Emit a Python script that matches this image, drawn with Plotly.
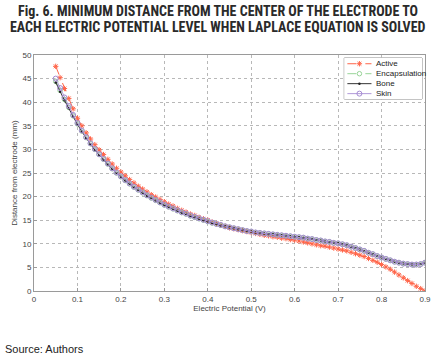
import plotly.graph_objects as go

potential = [round(0.05 + 0.01 * i, 2) for i in range(86)]

active = [47.6, 45.2, 42.9, 40.8, 38.6, 36.6, 35.0, 33.5, 32.2, 31.0,
          29.9, 28.9, 27.9, 26.9, 26.0, 25.2, 24.4, 23.6, 22.9, 22.2,
          21.6, 21.0, 20.4, 19.9, 19.4, 18.9, 18.4, 18.0, 17.5, 17.1,
          16.7, 16.3, 16.0, 15.6, 15.3, 15.0, 14.6, 14.3, 14.0, 13.7,
          13.4, 13.2, 13.0, 12.8, 12.6, 12.4, 12.2, 12.0, 11.8, 11.7,
          11.5, 11.4, 11.2, 11.1, 10.9, 10.8, 10.6, 10.4, 10.2, 10.0,
          9.8, 9.6, 9.5, 9.3, 9.1, 8.9, 8.7, 8.5, 8.2, 7.9,
          7.6, 7.3, 6.9, 6.5, 6.1, 5.6, 5.1, 4.6, 4.0, 3.4,
          2.8, 2.2, 1.6, 1.0, 0.5, 0.0]

skin = [45.0, 43.0, 41.0, 39.2, 37.3, 35.6, 34.0, 32.6, 31.3, 30.1,
        29.0, 28.0, 27.0, 26.0, 25.1, 24.3, 23.5, 22.8, 22.1, 21.5,
        20.9, 20.3, 19.8, 19.3, 18.8, 18.3, 17.9, 17.5, 17.1, 16.7,
        16.4, 16.0, 15.7, 15.4, 15.1, 14.8, 14.5, 14.2, 14.0, 13.7,
        13.5, 13.3, 13.1, 12.9, 12.7, 12.6, 12.4, 12.3, 12.2, 12.1,
        12.0, 11.9, 11.8, 11.7, 11.6, 11.5, 11.4, 11.3, 11.1, 11.0,
        10.8, 10.7, 10.5, 10.4, 10.2, 10.1, 9.9, 9.7, 9.4, 9.1,
        8.8, 8.5, 8.1, 7.8, 7.4, 7.1, 6.8, 6.5, 6.2, 6.0,
        5.8, 5.7, 5.6, 5.6, 5.7, 6.0]

encapsulation = [44.4, 42.5, 40.6, 38.9, 37.1, 35.4, 33.9, 32.5, 31.2, 30.0,
                 28.9, 27.9, 26.9, 25.9, 25.0, 24.2, 23.4, 22.7, 22.0, 21.4,
                 20.8, 20.2, 19.7, 19.2, 18.7, 18.2, 17.8, 17.4, 17.0, 16.6,
                 16.3, 15.9, 15.6, 15.3, 15.0, 14.7, 14.4, 14.2, 13.9, 13.7,
                 13.5, 13.3, 13.1, 12.9, 12.7, 12.6, 12.4, 12.3, 12.2, 12.1,
                 12.0, 11.9, 11.8, 11.7, 11.6, 11.5, 11.4, 11.3, 11.1, 11.0,
                 10.8, 10.7, 10.5, 10.4, 10.2, 10.1, 9.9, 9.7, 9.4, 9.1,
                 8.8, 8.5, 8.1, 7.8, 7.4, 7.1, 6.8, 6.5, 6.2, 6.0,
                 5.8, 5.7, 5.6, 5.6, 5.7, 6.0]

bone = [44.2, 42.2, 40.4, 38.7, 36.9, 35.3, 33.8, 32.4, 31.1, 29.9,
        28.8, 27.8, 26.8, 25.9, 25.0, 24.2, 23.4, 22.7, 22.0, 21.4,
        20.8, 20.2, 19.7, 19.2, 18.7, 18.2, 17.8, 17.4, 17.0, 16.6,
        16.3, 15.9, 15.6, 15.3, 15.0, 14.7, 14.4, 14.2, 13.9, 13.7,
        13.5, 13.3, 13.1, 12.9, 12.7, 12.6, 12.4, 12.3, 12.2, 12.1,
        12.0, 11.9, 11.8, 11.7, 11.6, 11.5, 11.4, 11.3, 11.1, 11.0,
        10.8, 10.7, 10.5, 10.4, 10.2, 10.1, 9.9, 9.7, 9.4, 9.1,
        8.8, 8.5, 8.1, 7.8, 7.4, 7.1, 6.8, 6.5, 6.2, 6.0,
        5.8, 5.7, 5.6, 5.6, 5.7, 6.0]

series_names = ["Active", "Encapsulation", "Bone", "Skin"]
x_ticks = [0, 0.1, 0.2, 0.3, 0.4, 0.5, 0.6, 0.7, 0.8, 0.9]
x_labels = ["0", "0.1", "0.2", "0.3", "0.4", "0.5", "0.6", "0.7", "0.8", "0.9"]
y_ticks = [0, 5, 10, 15, 20, 25, 30, 35, 40, 45, 50]
title_lines = ["Fig. 6. MINIMUM DISTANCE FROM THE CENTER OF THE ELECTRODE TO",
               "EACH ELECTRIC POTENTIAL LEVEL WHEN LAPLACE EQUATION IS SOLVED"]

RED, GREEN, BLACK, PURPLE = "#ff6448", "#98d498", "#222222", "#a58ad2"
styles = [
    dict(line=dict(color=RED, width=1, dash="dash"),
         marker=dict(symbol="asterisk-open", size=4.5, color=RED, line=dict(color=RED, width=1))),
    dict(line=dict(color=GREEN, width=1, dash="dash"),
         marker=dict(symbol="circle-open", size=4.5, color=GREEN, line=dict(color=GREEN, width=1))),
    dict(line=dict(color="#333333", width=1),
         marker=dict(symbol="circle", size=2.5, color=BLACK)),
    dict(line=dict(color="#b09ad8", width=1),
         marker=dict(symbol="circle-open", size=5, color=PURPLE, line=dict(color=PURPLE, width=1))),
]
all_values = [active, encapsulation, bone, skin]

fig = go.Figure()
for name, vals, st in zip(series_names, all_values, styles):
    fig.add_trace(go.Scatter(x=potential, y=vals, name=name, mode="lines+markers",
                             showlegend=False, **st))

# compact legend drawn on an overlay axis
for i, (name, st) in enumerate(zip(series_names, styles)):
    yy = 0.86 - i * 0.243
    fig.add_trace(go.Scatter(x=[0.04, 0.35], y=[yy, yy], mode="lines", xaxis="x2", yaxis="y2",
                             showlegend=False, hoverinfo="skip", line=st["line"]))
    fig.add_trace(go.Scatter(x=[0.195], y=[yy], mode="markers", xaxis="x2", yaxis="y2",
                             showlegend=False, hoverinfo="skip", marker=st["marker"]))

axis_common = dict(showline=True, linecolor="#9a9a9a", linewidth=1, mirror=True,
                   showgrid=True, gridcolor="#b8b8b8", griddash="dot", gridwidth=1,
                   ticks="inside", ticklen=3, tickcolor="#9a9a9a",
                   tickfont=dict(family="Liberation Sans", size=8, color="#444444"),
                   zeroline=False)

LX0, LX1 = (349 - 34) / 397, (428 - 34) / 397
LY0, LY1 = (291 - 99) / 236, (291 - 58) / 236

fig.update_layout(
    width=441, height=358,
    margin=dict(l=34, r=10, t=55, b=67),
    paper_bgcolor="white", plot_bgcolor="white",
    showlegend=False,
    xaxis=dict(range=[0, 0.9], tickvals=x_ticks, ticktext=x_labels, **axis_common,
               title=dict(text="Electric Potential (V)", standoff=0,
                          font=dict(family="Liberation Sans", size=8, color="#444444"))),
    yaxis=dict(range=[0, 50], tickvals=y_ticks, **axis_common,
               title=dict(text="Distance from electrode (mm)", standoff=3,
                          font=dict(family="Liberation Sans", size=8, color="#444444"))),
    xaxis2=dict(domain=[LX0, LX1], range=[0, 1], anchor="y2", visible=False, fixedrange=True),
    yaxis2=dict(domain=[LY0, LY1], range=[0, 1], anchor="x2", visible=False, fixedrange=True),
    shapes=[dict(type="rect", xref="paper", yref="paper", x0=LX0, x1=LX1, y0=LY0, y1=LY1,
                 line=dict(color="#8a8a8a", width=1), fillcolor="rgba(255,255,255,1)", layer="below")],
)

out_ann = []
for txt, ypix in zip(title_lines, [11, 27]):
    out_ann.append(dict(text="<b>" + txt + "</b>", xref="paper", yref="paper",
                        x=(220.5 - 34) / 397, y=(291 - ypix) / 236,
                        xanchor="center", yanchor="middle", showarrow=False,
                        font=dict(family="Liberation Sans Narrow, Roboto Condensed, Liberation Sans",
                                  size=14, color="#2a2a2a")))
for i, name in enumerate(series_names):
    yy = 0.86 - i * 0.243
    out_ann.append(dict(text=name, xref="x2", yref="y2", x=0.38, y=yy, xanchor="left",
                        yanchor="middle", showarrow=False,
                        font=dict(family="Liberation Sans", size=8, color="#222222")))
out_ann.append(dict(text="Source: Authors", xref="paper", yref="paper",
                    x=-(34 - 3) / 397, y=-(349 - 291) / 236, xanchor="left", yanchor="middle",
                    showarrow=False, font=dict(family="Liberation Sans", size=11, color="#222222")))
fig.update_layout(annotations=out_ann)

fig.write_html("out.html", config={"displayModeBar": False},
               post_script="document.body.style.margin='0';")
